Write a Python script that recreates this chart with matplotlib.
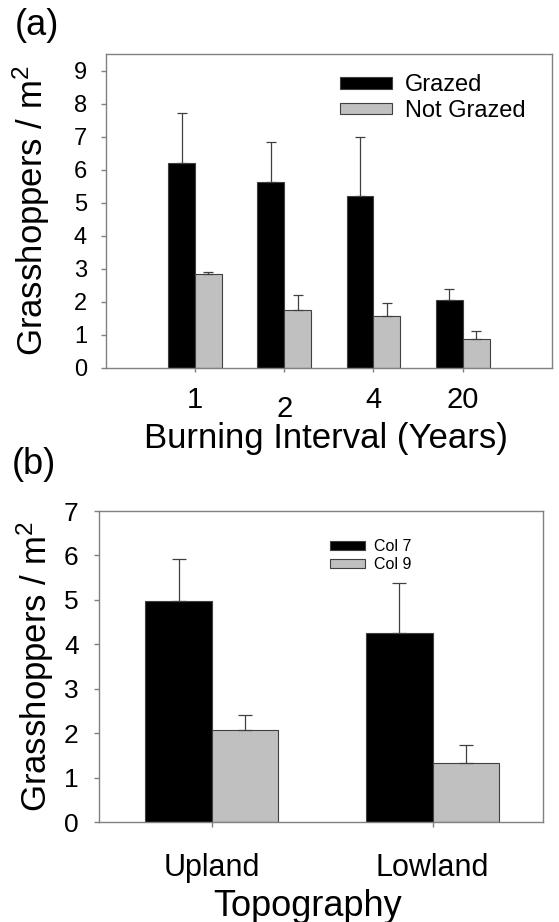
import numpy as np
import matplotlib
matplotlib.use("Agg")
import matplotlib.pyplot as plt
from matplotlib.transforms import ScaledTranslation

plt.rcParams['font.family'] = ['Liberation Sans', 'DejaVu Sans']
plt.rcParams['mathtext.fontset'] = 'custom'
plt.rcParams['mathtext.rm'] = 'Liberation Sans'
plt.rcParams['mathtext.default'] = 'regular'

# panel (a) data
intervals = ['1', '2', '4', '20']
grazed = [6.20, 5.61, 5.19, 2.04]
grazed_se = [1.52, 1.22, 1.79, 0.35]
not_grazed = [2.83, 1.76, 1.58, 0.88]
not_grazed_se = [0.07, 0.43, 0.37, 0.24]

# panel (b) data
topo = ['Upland', 'Lowland']
col7 = [4.97, 4.26]
col7_se = [0.95, 1.12]
col9 = [2.07, 1.33]
col9_se = [0.34, 0.41]

W, H = 559, 922
fig = plt.figure(figsize=(W / 100, H / 100), dpi=100)

black = 'black'
grey = '#c0c0c0'
edge = '#404040'
frame = '#808080'
bw = 0.3


def style_axes(ax):
    for s in ax.spines.values():
        s.set_color(frame)
        s.set_linewidth(1.0)
    ax.tick_params(direction='out', color=frame, width=1.0)


# ---------- (a)
ax1 = fig.add_axes([105.7 / W, 1 - 367.7 / H, (552 - 105.7) / W, (367.7 - 54) / H])
x = np.arange(1, len(intervals) + 1)
ax1.bar(x - bw / 2, grazed, bw, color=black, edgecolor=edge, linewidth=0.8, label='Grazed')
ax1.bar(x + bw / 2, not_grazed, bw, color=grey, edgecolor=edge, linewidth=0.8, label='Not Grazed')
ax1.errorbar(x - bw / 2, grazed, yerr=[np.zeros(4), grazed_se], fmt='none',
             ecolor=edge, elinewidth=0.9, capsize=3.6, capthick=0.9)
ax1.errorbar(x + bw / 2, not_grazed, yerr=[np.zeros(4), not_grazed_se], fmt='none',
             ecolor=edge, elinewidth=0.9, capsize=3.6, capthick=0.9)
ax1.set_xlim(0, 5)
ax1.set_ylim(0, 9.5)
ax1.set_yticks(range(0, 10))
ax1.set_xticks(x)
ax1.set_xticklabels(intervals, fontsize=21)
ax1.tick_params(axis='y', labelsize=17, length=3.4, pad=10)
ax1.tick_params(axis='x', length=3, pad=10)
style_axes(ax1)
# the "2" label sits a little lower in the original
lab = ax1.get_xticklabels()[1]
lab.set_transform(lab.get_transform() + ScaledTranslation(0, -7 / 72, fig.dpi_scale_trans))
ax1.set_xlabel('Burning Interval (Years)', fontsize=25)
ax1.xaxis.set_label_coords(0.494, -0.172)
ax1.set_ylabel('Grasshoppers / m$^2$', fontsize=25)
ax1.yaxis.set_label_coords(-0.12, 0.5)
ax1.legend(loc='upper left', bbox_to_anchor=(0.525, 0.935), frameon=False, fontsize=17,
           handlelength=2.2, handleheight=0.4, handletextpad=0.55, labelspacing=0.15,
           borderpad=0, borderaxespad=0)
fig.text(15 / W, 1 - 8 / H, '(a)', fontsize=26, ha='left', va='top')

# ---------- (b)
ax2 = fig.add_axes([99 / W, 1 - 822 / H, (543 - 99) / W, (822 - 511) / H])
xb = np.arange(1, len(topo) + 1)
ax2.bar(xb - bw / 2, col7, bw, color=black, edgecolor=edge, linewidth=0.8, label='Col 7')
ax2.bar(xb + bw / 2, col9, bw, color=grey, edgecolor=edge, linewidth=0.8, label='Col 9')
ax2.errorbar(xb - bw / 2, col7, yerr=[np.zeros(2), col7_se], fmt='none',
             ecolor=edge, elinewidth=0.9, capsize=5.3, capthick=0.9)
ax2.errorbar(xb + bw / 2, col9, yerr=[np.zeros(2), col9_se], fmt='none',
             ecolor=edge, elinewidth=0.9, capsize=5.3, capthick=0.9)
ax2.set_xlim(0.49, 2.5)
ax2.set_ylim(0, 7)
ax2.set_yticks(range(0, 8))
ax2.set_xticks(xb)
ax2.set_xticklabels(topo, fontsize=22)
ax2.tick_params(axis='y', labelsize=19, length=3.6, pad=11)
ax2.tick_params(axis='x', length=3.6, pad=19)
style_axes(ax2)
ax2.set_xlabel('Topography', fontsize=26)
ax2.xaxis.set_label_coords(0.47, -0.2145)
ax2.set_ylabel('Grasshoppers / m$^2$', fontsize=25)
ax2.yaxis.set_label_coords(-0.097, 0.5)
ax2.legend(loc='upper left', bbox_to_anchor=(0.52, 0.91), frameon=False, fontsize=11.5,
           handlelength=2.2, handleheight=0.5, handletextpad=0.55, labelspacing=0.2,
           borderpad=0, borderaxespad=0)
fig.text(12 / W, 1 - 447 / H, '(b)', fontsize=26, ha='left', va='top')

fig.savefig('out.png', dpi=100)
